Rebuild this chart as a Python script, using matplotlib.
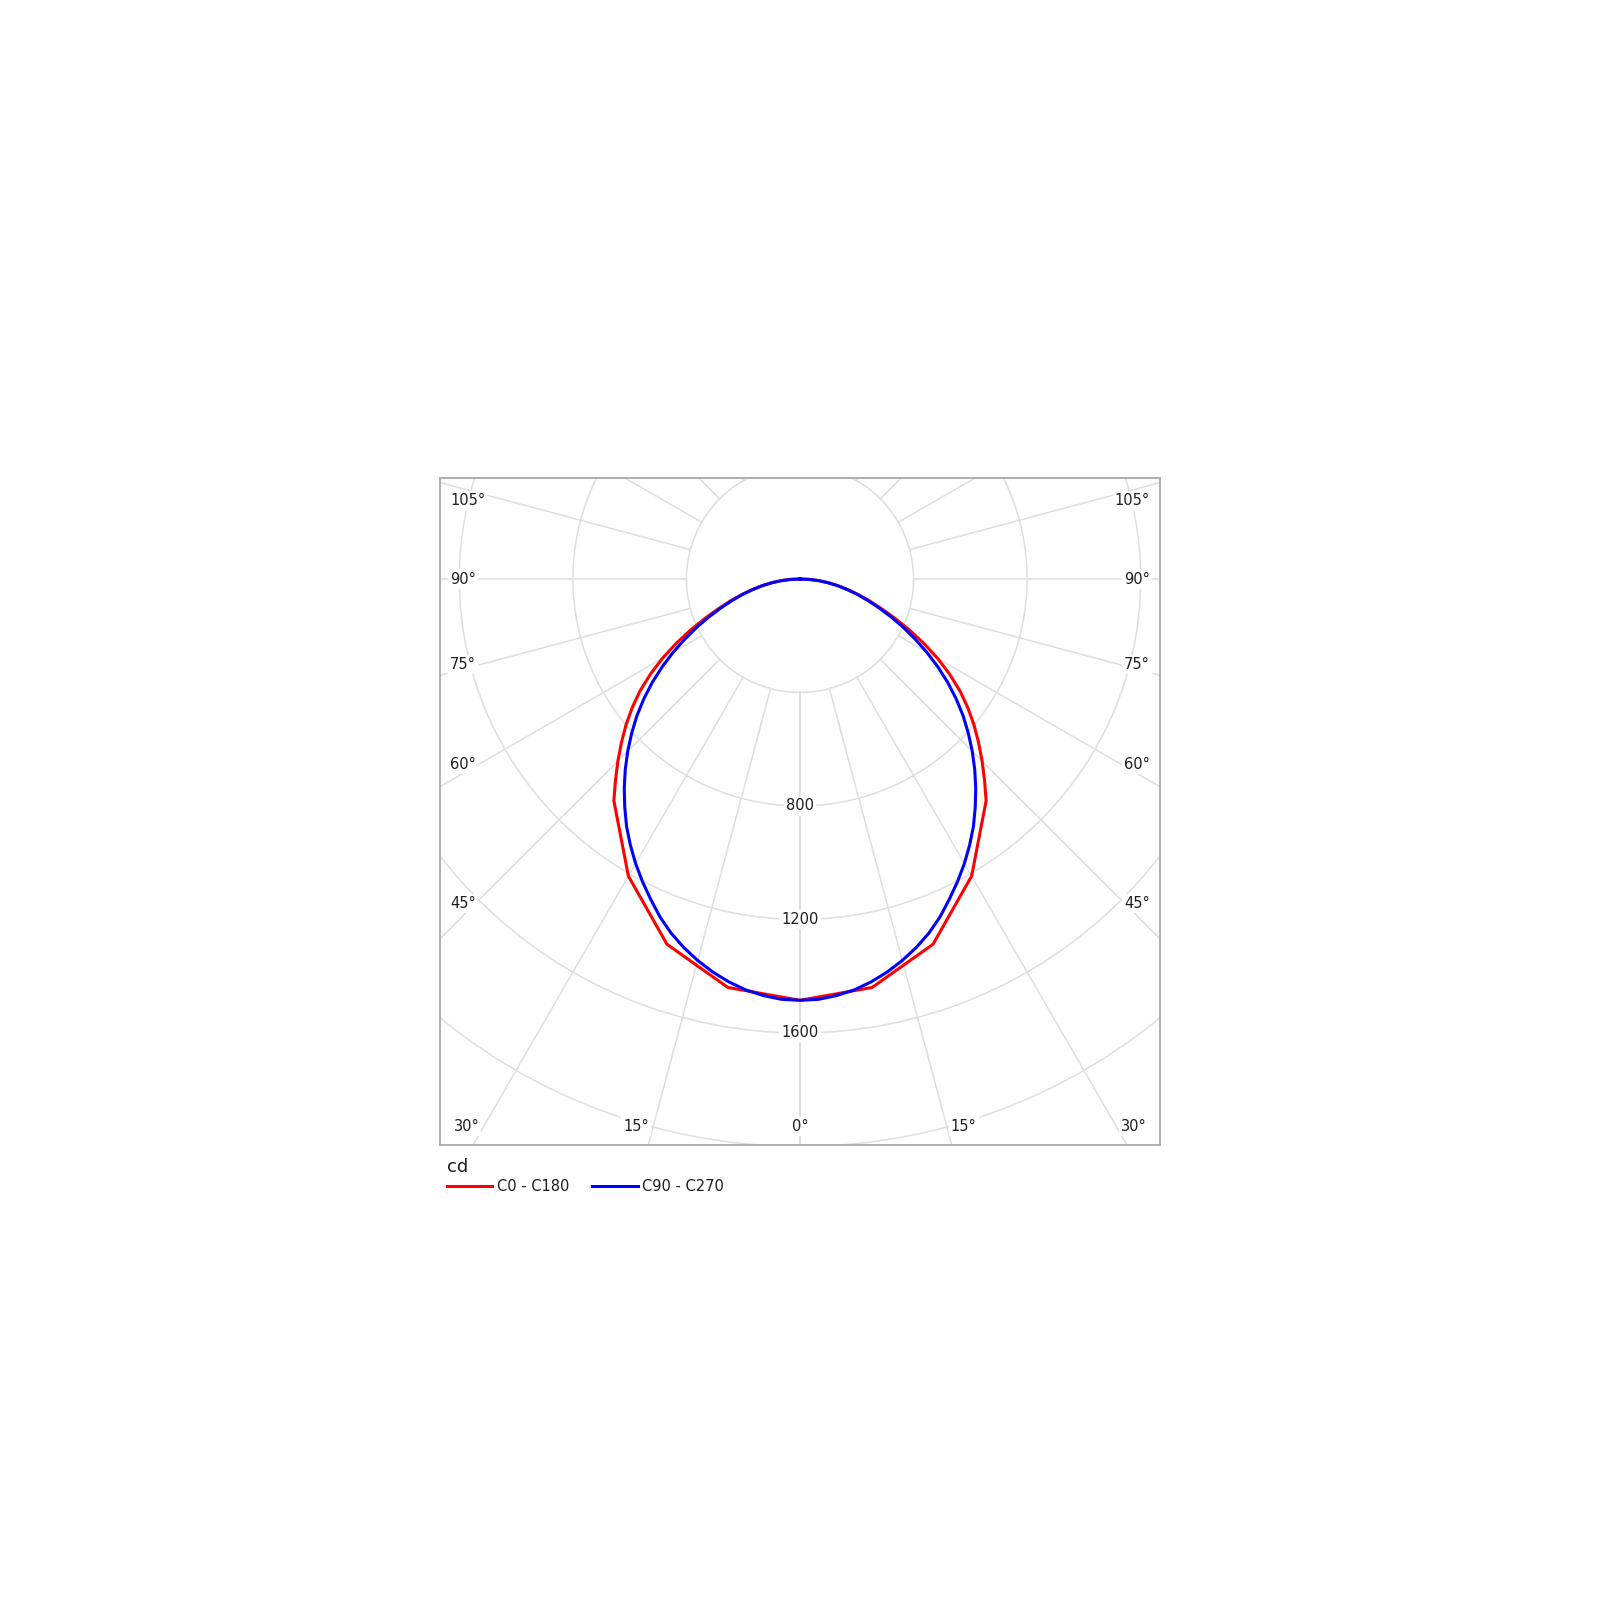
import numpy as np
import matplotlib.pyplot as plt
from matplotlib.patches import Circle

# Luminous intensity (cd) against gamma angle from nadir, both halves symmetric
c0_angles = [0, 10, 20, 30, 40, 42.5, 45, 47.5, 50, 52.5, 55, 57.5, 60, 62.5, 65, 67.5,
             70, 72.5, 75, 77.5, 80, 82.5, 85, 87.5, 90]
c0_values = [1485, 1462, 1370, 1209, 1020, 962, 907, 853, 800, 745, 688, 625, 560, 492, 425, 362,
             305, 257, 213, 173, 136, 101, 67, 33, 0]

c90_angles = [0, 2.5, 5, 7.5, 10, 12.5, 15, 17.5, 20, 22.5, 25, 27.5, 30, 32.5, 35, 37.5,
              40, 42.5, 45, 47.5, 50, 52.5, 55, 57.5, 60, 62.5, 65, 67.5, 70, 72.5, 75,
              77.5, 80, 82.5, 85, 87.5, 90]
c90_values = [1485, 1483, 1474, 1461, 1442, 1419, 1392, 1362, 1328, 1289, 1245, 1202, 1158,
              1112, 1065, 1014, 963, 911, 858, 804, 750, 693, 635, 575, 515, 456, 400, 345,
              295, 249, 208, 168, 133, 98, 65, 33, 0]

ring_values = [400, 800, 1200, 1600, 2000]
ring_labels = [800, 1200, 1600]
grid_angles = [0, 15, 30, 45, 60, 75, 90, 105, 120, 135, 150, 165, 180]
bottom_ticks = [0, 15, 30]
side_ticks = [45, 60, 75, 90, 105]

grid_color = '#dedede'
text_color = '#1e1e1e'
fs = 10.5
cd_px = 3.524  # cd per screen pixel

fig = plt.figure(figsize=(16, 16), dpi=100)
ax = fig.add_axes([0.275, 0.284375, 0.45, 0.416875])
xmax = 1268
ymin, ymax = -1995, 356
ax.set_xlim(-xmax, xmax)
ax.set_ylim(ymin, ymax)
ax.set_xticks([])
ax.set_yticks([])
for s in ax.spines.values():
    s.set_color('#a8a8a8')
    s.set_linewidth(1.3)


def to_xy(angles, values):
    # mirror the half curve to both sides of the nadir
    a = np.radians(np.concatenate([-np.array(angles[::-1]), np.array(angles[1:])]))
    v = np.concatenate([np.array(values[::-1]), np.array(values[1:])])
    return v * np.sin(a), -v * np.cos(a)


# grid: rings and radial lines
for r in ring_values:
    ax.add_patch(Circle((0, 0), r, fill=False, color=grid_color, lw=1.1, zorder=1))
for g in grid_angles:
    for side in (-1, 1):
        t = np.radians(g * side)
        ax.plot([400 * np.sin(t), 2600 * np.sin(t)], [-400 * np.cos(t), -2600 * np.cos(t)],
                color=grid_color, lw=1.1, zorder=1)

box = dict(facecolor='white', edgecolor='none', pad=1.5)

for r in ring_labels:
    ax.text(0, -r, str(r), ha='center', va='center', fontsize=fs, color=text_color,
            bbox=box, zorder=2)

# angle labels where the rays meet the frame
y_row = -(1127 - 579) * cd_px
for g in bottom_ticks:
    if g == 0:
        ax.text(0, y_row, '0°', ha='center', va='center', fontsize=fs, color=text_color,
                bbox=box, zorder=2)
        continue
    xl = -y_row * np.tan(np.radians(g))
    ax.text(-xl - 4 * cd_px, y_row, f'{g}°', ha='right', va='center', fontsize=fs,
            color=text_color, bbox=box, zorder=2)
    ax.text(xl + 4 * cd_px, y_row, f'{g}°', ha='left', va='center', fontsize=fs,
            color=text_color, bbox=box, zorder=2)

x_probe = 339 * cd_px
x_text = xmax - 10 * cd_px
for g in side_ticks:
    t = np.radians(g)
    yl = -x_probe * np.cos(t) / np.sin(t) + 20 * np.cos(t) * cd_px
    yl = min(yl, ymax - 23 * cd_px)
    ax.text(-x_text, yl, f'{g}°', ha='left', va='center', fontsize=fs, color=text_color,
            bbox=box, zorder=2)
    ax.text(x_text, yl, f'{g}°', ha='right', va='center', fontsize=fs, color=text_color,
            bbox=box, zorder=2)

# curves
x0, y0 = to_xy(c0_angles, c0_values)
x90, y90 = to_xy(c90_angles, c90_values)
l0, = ax.plot(x0, y0, color='#ff0000', lw=2.2, zorder=3, label='C0 - C180')
l90, = ax.plot(x90, y90, color='#0000ff', lw=2.2, zorder=4, label='C90 - C270')

leg = fig.legend(handles=[l0, l90], loc='upper left', bbox_to_anchor=(447 / 1600, 1 - 1158 / 1600),
                 ncol=2, frameon=False, title='cd', alignment='left', fontsize=fs,
                 title_fontsize=13, handlelength=3.1, handletextpad=0.3, columnspacing=1.6,
                 borderpad=0, borderaxespad=0, labelspacing=0.2)
for t in leg.get_texts():
    t.set_color(text_color)
leg.get_title().set_color(text_color)

fig.savefig('out.png', dpi=100, facecolor='white')
